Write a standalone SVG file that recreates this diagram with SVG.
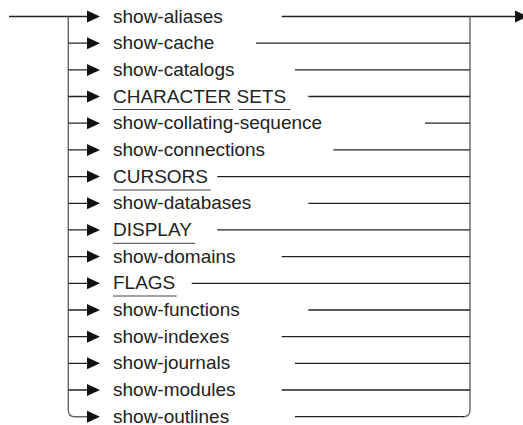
<svg xmlns="http://www.w3.org/2000/svg" xmlns:xlink="http://www.w3.org/1999/xlink" width="523" height="425" viewBox="0 0 523 425">
<style>
.t{font-family:"Liberation Sans",Arial,sans-serif;font-size:19px;fill:#222}
.c{stroke:#222;stroke-width:1.3;fill:none}
.v{stroke:#666;stroke-width:1.4;fill:none}
.u{stroke:#444;stroke-width:1}
.a{fill:#111}
</style>
<defs>
<path id="arr" d="M0,-6 L13,0 L0,6 Z"/>
</defs>
<rect width="523" height="425" fill="#fff"/>
<g id="connectors">
<path class="c" d="M9,16.5 H88"/>
<path class="v" d="M68.3,16.5 V410 Q68.3,416.7 75,416.7 H88"/>
<path class="c" d="M68.3,43.2H88 M68.3,69.9H88 M68.3,96.5H88 M68.3,123.2H88 M68.3,149.9H88 M68.3,176.6H88 M68.3,203.3H88 M68.3,229.9H88 M68.3,256.6H88 M68.3,283.3H88 M68.3,310H88 M68.3,336.7H88 M68.3,363.3H88 M68.3,390H88"/>
<g class="a">
<use xlink:href="#arr" x="87" y="16.5"/><use xlink:href="#arr" x="87" y="43.2"/><use xlink:href="#arr" x="87" y="69.9"/><use xlink:href="#arr" x="87" y="96.5"/><use xlink:href="#arr" x="87" y="123.2"/><use xlink:href="#arr" x="87" y="149.9"/><use xlink:href="#arr" x="87" y="176.6"/><use xlink:href="#arr" x="87" y="203.3"/><use xlink:href="#arr" x="87" y="229.9"/><use xlink:href="#arr" x="87" y="256.6"/><use xlink:href="#arr" x="87" y="283.3"/><use xlink:href="#arr" x="87" y="310"/><use xlink:href="#arr" x="87" y="336.7"/><use xlink:href="#arr" x="87" y="363.3"/><use xlink:href="#arr" x="87" y="390"/><use xlink:href="#arr" x="87" y="416.7"/>
<use xlink:href="#arr" x="515" y="16.5"/>
</g>
<path class="c" d="M281.7,16.5 H516"/>
<path class="v" d="M470,16.5 V409.7 Q470,416.7 463,416.7"/>
<path class="c" d="M256,43.2H470 M295,69.9H470 M308.3,96.5H470 M425,123.2H470 M333.3,149.9H470 M217.3,176.6H470 M308.3,203.3H470 M217.3,229.9H470 M281.7,256.6H470 M191.7,283.3H470 M308.3,310H470 M281.7,336.7H470 M295,363.3H470 M281.7,390H470 M295,416.7H464"/>
</g>
<g id="n1"><text class="t" x="113" y="22.5">show-aliases</text></g>
<g id="n2"><text class="t" x="113" y="49.2">show-cache</text></g>
<g id="n3"><text class="t" x="113" y="75.9">show-catalogs</text></g>
<g id="n4"><text class="t" x="113" y="102.5">CHARACTER SETS</text><path class="u" d="M113,109.5H233 M239,109.5H290.7"/></g>
<g id="n5"><text class="t" x="113" y="129.2">show-collating-sequence</text></g>
<g id="n6"><text class="t" x="113" y="155.9">show-connections</text></g>
<g id="n7"><text class="t" x="113" y="182.6">CURSORS</text><path class="u" d="M113,190H210.7"/></g>
<g id="n8"><text class="t" x="113" y="209.3">show-databases</text></g>
<g id="n9"><text class="t" x="113" y="235.9">DISPLAY</text><path class="u" d="M113,243.3H195"/></g>
<g id="n10"><text class="t" x="113" y="262.6">show-domains</text></g>
<g id="n11"><text class="t" x="113" y="289.3">FLAGS</text><path class="u" d="M113,296H176.7"/></g>
<g id="n12"><text class="t" x="113" y="316">show-functions</text></g>
<g id="n13"><text class="t" x="113" y="342.7">show-indexes</text></g>
<g id="n14"><text class="t" x="113" y="369.3">show-journals</text></g>
<g id="n15"><text class="t" x="113" y="396">show-modules</text></g>
<g id="n16"><text class="t" x="113" y="422.5">show-outlines</text></g>
</svg>
